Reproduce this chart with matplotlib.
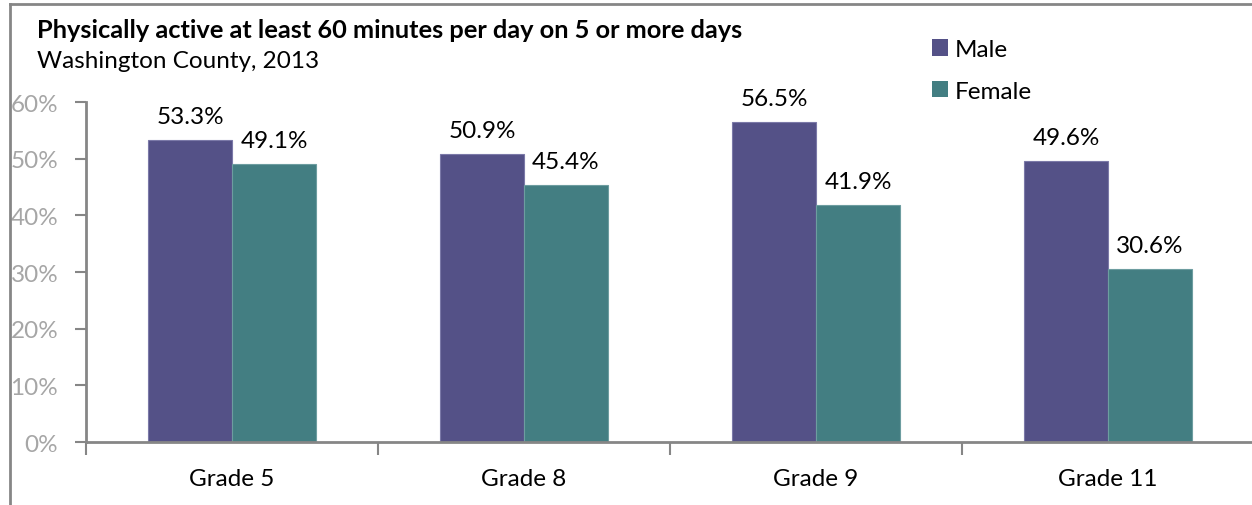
import matplotlib
matplotlib.use("Agg")
import matplotlib.pyplot as plt
import numpy as np
from matplotlib.lines import Line2D
from matplotlib.patches import Patch

grades = ["Grade 5", "Grade 8", "Grade 9", "Grade 11"]
male = [53.3, 50.9, 56.5, 49.6]
female = [49.1, 45.4, 41.9, 30.6]
yticks = [0, 10, 20, 30, 40, 50, 60]

MALE_C = "#545187"
FEMALE_C = "#437e82"
AXIS_C = "#868686"
FONT = "Lato"
FS = 17.5

W, H = 1252, 506
fig = plt.figure(figsize=(W / 100, H / 100), dpi=100)

ax = fig.add_axes([86 / W, 1 - 443 / H, (1254 - 86) / W, (443 - 103) / H])
x = np.arange(len(grades))
bw = 0.2875
bm = ax.bar(x - bw / 2, male, bw, color=MALE_C, edgecolor="#7b79a8", linewidth=0.8)
bf = ax.bar(x + bw / 2, female, bw, color=FEMALE_C, edgecolor="#6d9da0", linewidth=0.8)

for bars, vals in ((bm, male), (bf, female)):
    for b, v in zip(bars, vals):
        ax.annotate(f"{v:.1f}%", (b.get_x() + b.get_width() / 2, v),
                    xytext=(0, 13), textcoords="offset pixels",
                    ha="center", va="bottom", fontsize=FS, family=FONT, color="#000000")

ax.set_xlim(-0.5, len(grades) - 0.5)
ax.set_ylim(0, 60)
ax.set_yticks(yticks)
ax.set_yticklabels([f"{t}%" for t in yticks], family=FONT, fontsize=FS, color="#a6a6a6")
ax.set_xticks(x)
ax.set_xticklabels(grades, family=FONT, fontsize=FS, color="#000000")
ax.set_xticks(np.arange(-0.5, len(grades)), minor=True)
ax.tick_params(axis="x", which="major", length=0, pad=19)
ax.tick_params(axis="x", which="minor", length=9, width=1.5, color=AXIS_C, direction="out")
ax.tick_params(axis="y", which="major", length=8, width=1.5, color=AXIS_C, pad=12)

for s in ("top", "right"):
    ax.spines[s].set_visible(False)
for s in ("left", "bottom"):
    ax.spines[s].set_color(AXIS_C)
    ax.spines[s].set_linewidth(2)

fig.text(37 / W, 1 - 31 / H, "Physically active at least 60 minutes per day on 5 or more days",
         family=FONT, fontsize=18.3, fontweight="bold", va="center", ha="left")
fig.text(37 / W, 1 - 62 / H, "Washington County, 2013",
         family=FONT, fontsize=FS, va="center", ha="left")

handles = [Patch(facecolor=MALE_C, label="Male"), Patch(facecolor=FEMALE_C, label="Female")]
fig.legend(handles=handles, loc="upper left", bbox_to_anchor=(932 / W, 1 - 40 / H),
           frameon=False, prop={"family": FONT, "size": FS}, handlelength=0.65,
           handleheight=0.65, handletextpad=0.3, labelspacing=0.85, borderpad=0,
           borderaxespad=0)

# chart area frame (top and left edges)
fig.add_artist(Line2D([10 / W, 1.0], [1 - 5 / H, 1 - 5 / H], transform=fig.transFigure,
                      color=AXIS_C, linewidth=2))
fig.add_artist(Line2D([10 / W, 10 / W], [0, 1 - 5 / H], transform=fig.transFigure,
                      color=AXIS_C, linewidth=2))

fig.savefig("out.png", dpi=100)
